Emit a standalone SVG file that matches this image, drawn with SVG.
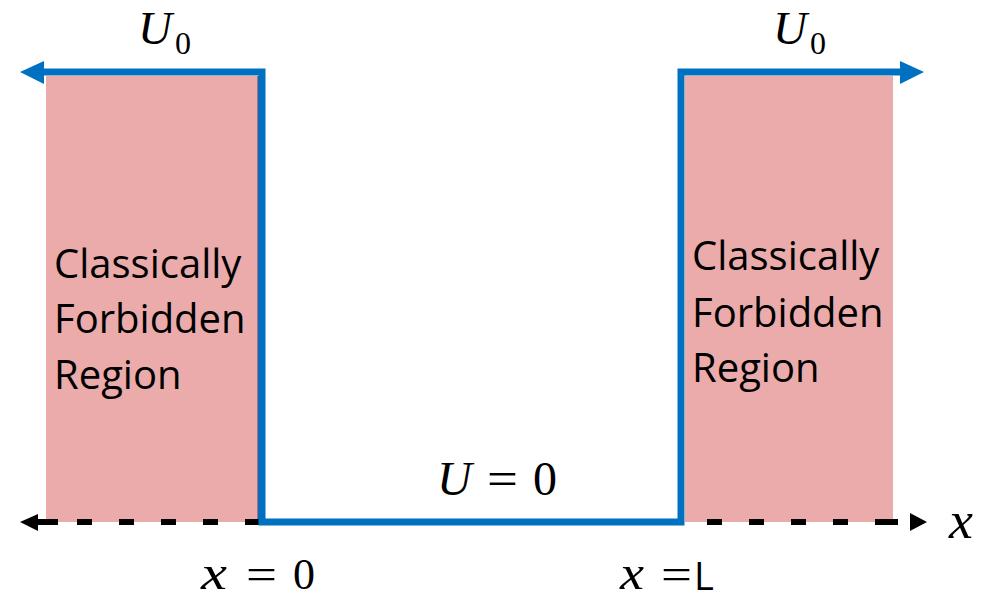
<svg xmlns="http://www.w3.org/2000/svg" width="997" height="600" viewBox="0 0 997 600">
  <style>
    .region { fill: #EBABAB; }
    .lbl { font-family: "Open Sans", "Liberation Sans", sans-serif; font-size: 40px; fill: #000; }
    .math { font-family: "Liberation Serif", "DejaVu Serif", serif; font-style: italic; fill: #000; }
    .mathup { font-family: "Liberation Serif", "DejaVu Serif", serif; fill: #000; }
    .pot { fill: none; stroke: #0070C0; stroke-width: 7; stroke-linejoin: miter; }
    .axis { stroke: #000; stroke-width: 6; fill: none; }
  </style>
  <rect width="997" height="600" fill="#fff"/>

  <g id="region-left">
    <rect class="region" x="46" y="76" width="216" height="446"/>
    <rect x="257.5" y="76" width="4.5" height="446" fill="#3F4C86"/>
    <text class="lbl" x="54" y="278">Classically</text>
    <text class="lbl" x="54" y="333">Forbidden</text>
    <text class="lbl" x="54" y="389">Region</text>
  </g>

  <g id="region-right">
    <rect class="region" x="685" y="76" width="208" height="446"/>
    <text class="lbl" x="692" y="270">Classically</text>
    <text class="lbl" x="692" y="327">Forbidden</text>
    <text class="lbl" x="692" y="382">Region</text>
  </g>

  <g id="axis">
    <line class="axis" x1="38" y1="522" x2="900" y2="522" stroke-dasharray="15 27" stroke-dashoffset="-39"/>
    <line class="axis" x1="36" y1="522" x2="58" y2="522"/>
    <line class="axis" x1="875" y1="522" x2="898" y2="522"/>
    <polygon points="20,522 38,514 38,531" fill="#000"/>
    <polygon points="927,522 910,513 910,531" fill="#000"/>
  </g>

  <g id="connectors">
    <path class="pot" d="M 42 72 H 262 V 522 H 681 V 72 H 902"/>
    <polygon points="20,72 44,61 44,84" fill="#0070C0"/>
    <polygon points="924,72 900,61 900,84" fill="#0070C0"/>
  </g>

  <g id="labels">
    <text class="math" x="138" y="44" font-size="47">U</text>
    <text class="mathup" x="175" y="54" font-size="32">0</text>
    <text class="math" x="773" y="44" font-size="47">U</text>
    <text class="mathup" x="810" y="54" font-size="32">0</text>

    <text class="math" x="437" y="495" font-size="48">U</text>
    <text class="mathup" x="487" y="495" font-size="48" textLength="31" lengthAdjust="spacingAndGlyphs">=</text>
    <text class="mathup" x="533" y="495" font-size="48">0</text>

    <text class="math" x="201" y="589" font-size="48" textLength="26" lengthAdjust="spacingAndGlyphs">x</text>
    <text class="mathup" x="246" y="589" font-size="44" textLength="31" lengthAdjust="spacingAndGlyphs">=</text>
    <text class="mathup" x="293" y="589" font-size="44">0</text>

    <text class="math" x="620" y="589" font-size="48" textLength="24" lengthAdjust="spacingAndGlyphs">x</text>
    <text class="mathup" x="661" y="589" font-size="44" textLength="31" lengthAdjust="spacingAndGlyphs">=</text>
    <text x="694" y="590" font-family="Open Sans, Liberation Sans, sans-serif" font-size="38" fill="#000">L</text>

    <text class="math" x="949" y="538" font-size="52" textLength="24" lengthAdjust="spacingAndGlyphs">x</text>
  </g>
</svg>
